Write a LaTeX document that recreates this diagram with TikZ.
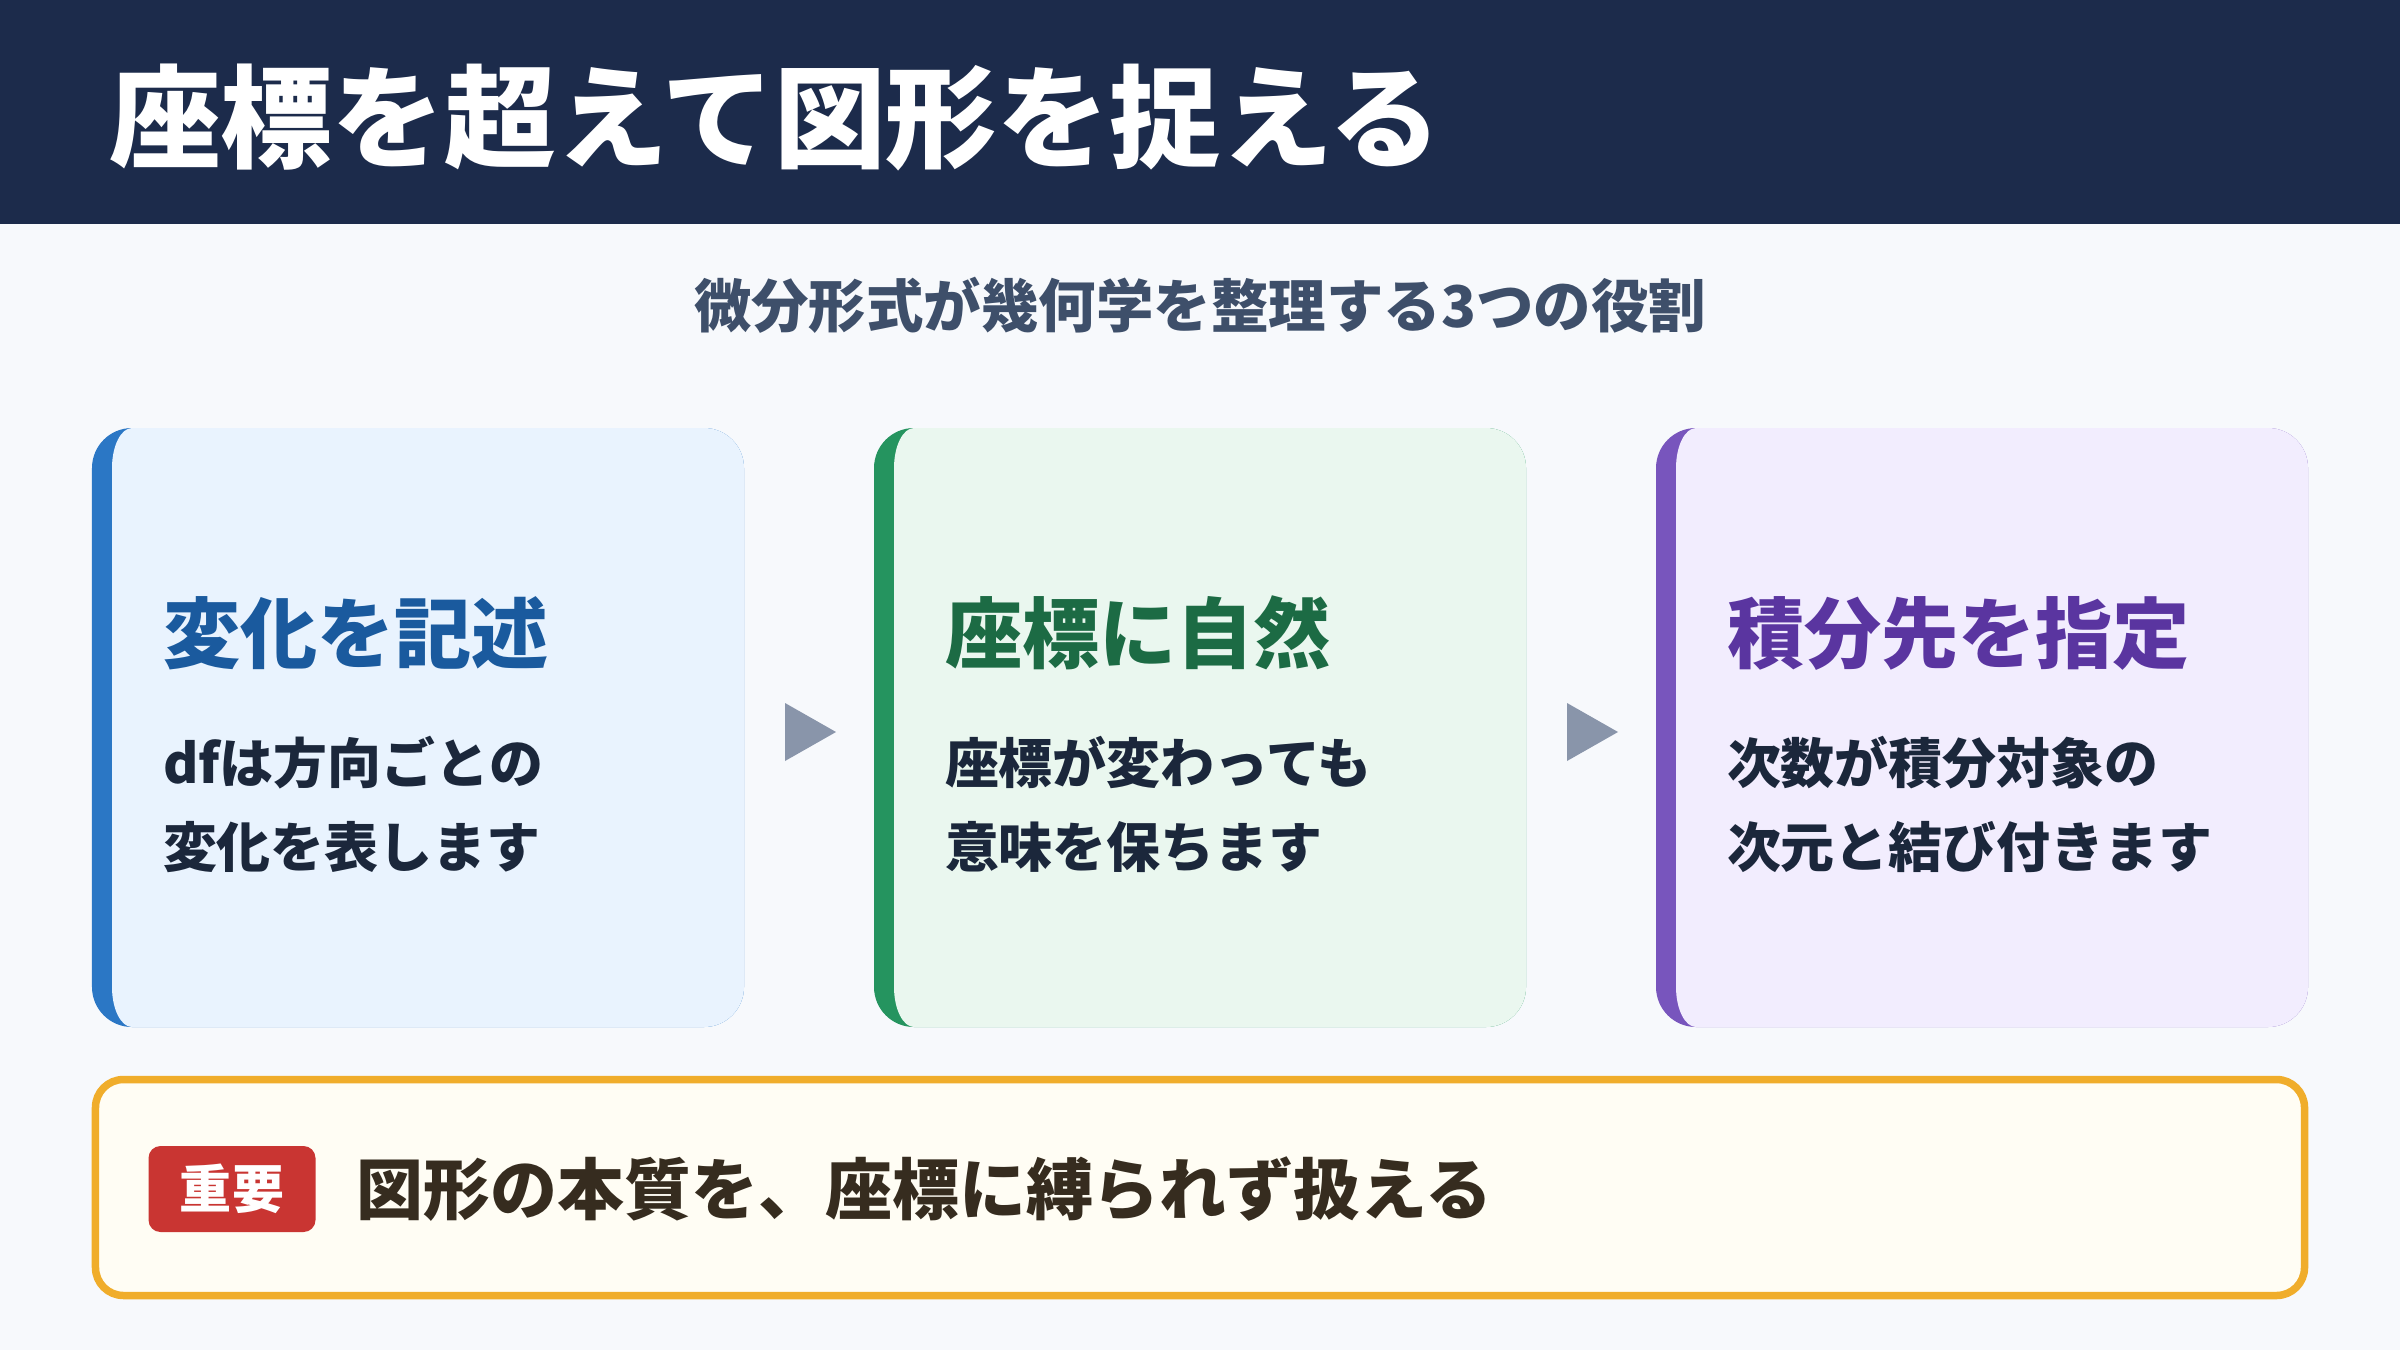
\documentclass[tikz,border=0pt]{standalone}
\usepackage{fontspec}
\setmainfont{Noto Sans CJK JP}
\usetikzlibrary{positioning,calc}

\definecolor{pagebg}{HTML}{F7F9FC}
\definecolor{headbg}{HTML}{1C2B4B}
\definecolor{subink}{HTML}{3E4F6A}
\definecolor{bodyink}{HTML}{1B273B}
\definecolor{blueedge}{HTML}{2B77C5}
\definecolor{bluefill}{HTML}{E9F3FE}
\definecolor{bluetitle}{HTML}{1A5A9E}
\definecolor{greenedge}{HTML}{25945F}
\definecolor{greenfill}{HTML}{EAF7EF}
\definecolor{greentitle}{HTML}{1C6B44}
\definecolor{purpleedge}{HTML}{7855BD}
\definecolor{purplefill}{HTML}{F2EDFE}
\definecolor{purpletitle}{HTML}{5A35A0}
\definecolor{arrowgrey}{HTML}{8995AA}
\definecolor{noteedge}{HTML}{F0AD2B}
\definecolor{notefill}{HTML}{FFFDF4}
\definecolor{badgered}{HTML}{C93532}
\definecolor{noteink}{HTML}{362C1F}

\begin{document}
\begin{tikzpicture}[x=1mm, y=1mm, every node/.style={inner sep=0pt, outer sep=0pt},
    card/.style={rectangle, rounded corners=4mm, minimum width=65.2mm, minimum height=59.9mm},
    cardtitle/.style={anchor=west, font=\fontsize{21.95}{26}\selectfont\bfseries},
    cardtext/.style={anchor=north west, align=left, text=bodyink, font=\fontsize{15.35}{23.9}\selectfont\bfseries},
    stepmark/.style={fill=arrowgrey}]
    \useasboundingbox (0,0) rectangle (240,135);
    % background and header band
    \fill[pagebg] (0,0) rectangle (240,135);
    \fill[headbg] (0,112.6) rectangle (240,135);
    \node[anchor=west, text=white, font=\fontsize{31.8}{36}\selectfont\bfseries] (title) at (10.9,123.2) {座標を超えて図形を捉える};
    \node[text=subink, font=\fontsize{16.35}{20}\selectfont\bfseries] (subtitle) at (120,104.5) {微分形式が幾何学を整理する3つの役割};

    % three cards with a coloured left edge
    \node[card, fill=blueedge] (c1) at (41.8,62.25) {};
    \node[card, fill=greenedge, right=13mm of c1] (c2) {};
    \node[card, fill=purpleedge, right=13mm of c2] (c3) {};
    \foreach \n/\c in {c1/bluefill, c2/greenfill, c3/purplefill}
        \fill[\c] ([xshift=4mm]\n.north west) -- ([xshift=-4mm]\n.north east)
            arc[start angle=90, end angle=0, radius=4mm] -- ([yshift=4mm]\n.south east)
            arc[start angle=0, end angle=-90, radius=4mm] -- ([xshift=4mm]\n.south west)
            arc[start angle=270, end angle=180, x radius=2mm, y radius=4mm] -- ([xshift=2mm, yshift=-4mm]\n.north west)
            arc[start angle=180, end angle=90, x radius=2mm, y radius=4mm] -- cycle;

    \node[cardtitle, text=bluetitle] (t1) at ([xshift=7.1mm, yshift=9.45mm]c1.west) {変化を記述};
    \node[cardtext] (b1) at ([xshift=7.1mm, yshift=-0.85mm]c1.west) {dfは方向ごとの\\変化を表します};
    \node[cardtitle, text=greentitle] (t2) at ([xshift=7.1mm, yshift=9.45mm]c2.west) {座標に自然};
    \node[cardtext] (b2) at ([xshift=7.1mm, yshift=-0.85mm]c2.west) {座標が変わっても\\意味を保ちます};
    \node[cardtitle, text=purpletitle] (t3) at ([xshift=7.1mm, yshift=9.45mm]c3.west) {積分先を指定};
    \node[cardtext] (b3) at ([xshift=7.1mm, yshift=-0.85mm]c3.west) {次数が積分対象の\\次元と結び付きます};

    % step marks between cards
    \coordinate (m1) at ($(c1.east)!0.5!(c2.west)$);
    \coordinate (m2) at ($(c2.east)!0.5!(c3.west)$);
    \fill[stepmark] (m1) ++(-2.4,2.45) -- ++(5.1,-2.9) -- ++(-5.1,-2.9) -- cycle;
    \fill[stepmark] (m2) ++(-2.4,2.45) -- ++(5.1,-2.9) -- ++(-5.1,-2.9) -- cycle;

    % key point
    \node[rectangle, rounded corners=2.8mm, draw=noteedge, line width=0.75mm, fill=notefill,
        minimum width=220.9mm, minimum height=21.6mm] (note) at (120,16.25) {};
    \node[rectangle, rounded corners=1.2mm, fill=badgered, text=white, minimum width=16.7mm, minimum height=8.6mm,
        font=\fontsize{14.8}{18}\selectfont\bfseries] (badge) at (23.2,16.1) {重要};
    \node[right=4.1mm of badge, text=noteink, font=\fontsize{19.05}{22}\selectfont\bfseries] (notetext) {図形の本質を、座標に縛られず扱える};
\end{tikzpicture}
\end{document}
